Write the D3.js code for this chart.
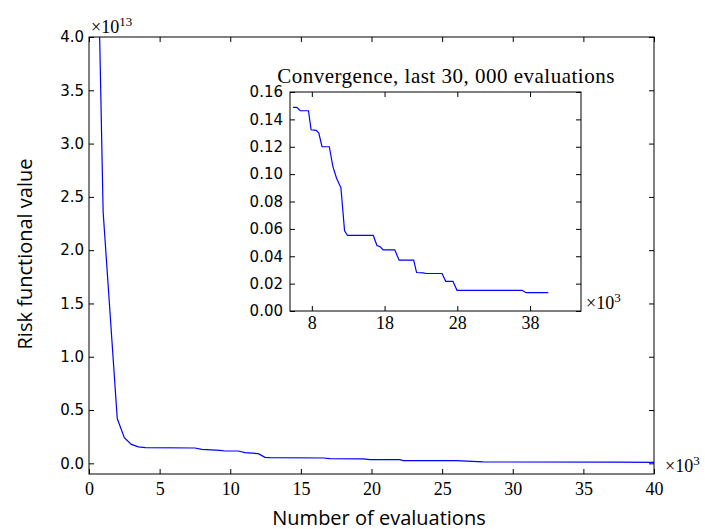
<!DOCTYPE html>
<html>
<head>
<meta charset="utf-8">
<script src="https://cdn.jsdelivr.net/npm/d3@7"></script>
<style>
  body { margin: 0; background: #fff; }
  svg { display: block; }
</style>
</head>
<body>
<div id="chart"></div>
<script>
// values (evaluations in thousands, risk in 1e13)
const mainEvals = [0.5, 1.0, 2.0, 2.5, 3.0, 3.5, 4.0, 7.5, 7.98, 9.27, 9.63, 10.57, 11.04, 11.99, 12.46, 12.8, 16.6, 17.06, 19.4, 19.9, 22.0, 22.25, 26.0, 27.9, 37.4, 40.0];
const mainRisk  = [5.7, 2.36, 0.42, 0.24, 0.178, 0.155, 0.147, 0.144, 0.131, 0.122, 0.116, 0.116, 0.100, 0.091, 0.056, 0.053, 0.050, 0.044, 0.041, 0.034, 0.034, 0.025, 0.025, 0.013, 0.011, 0.009];

const insetEvals = [5.4, 5.94, 6.4, 7.54, 7.9, 8.6, 8.96, 9.4, 10.4, 10.9, 11.4, 12.0, 12.5, 12.9, 16.45, 16.95, 17.4, 17.8, 19.4, 20.0, 22.0, 22.4, 23.3, 23.75, 25.9, 26.4, 27.4, 27.95, 36.9, 37.45, 40.5];
const insetRisk  = [0.1488, 0.1488, 0.1463, 0.1463, 0.1324, 0.132, 0.130, 0.120, 0.120, 0.1055, 0.097, 0.090, 0.0586, 0.0552, 0.0552, 0.0479, 0.0469, 0.0447, 0.0447, 0.0371, 0.0371, 0.0281, 0.0278, 0.0274, 0.0274, 0.0217, 0.0217, 0.0151, 0.0151, 0.0134, 0.0134];

const mainXTicks = [0, 5, 10, 15, 20, 25, 30, 35, 40];
const mainYTicks = [0.0, 0.5, 1.0, 1.5, 2.0, 2.5, 3.0, 3.5, 4.0];
const insetXTicks = [8, 18, 28, 38];
const insetYTicks = [0.00, 0.02, 0.04, 0.06, 0.08, 0.10, 0.12, 0.14, 0.16];

const W = 705, H = 529;
const serif = '"Liberation Serif", "DejaVu Serif", serif';
const sans = '"DejaVu Sans", sans-serif';
const labelFont = '"Open Sans", "Noto Sans", sans-serif';

const svg = d3.select('#chart').append('svg')
  .attr('width', W).attr('height', H);

function drawPanel(cfg) {
  const x = d3.scaleLinear().domain(cfg.xDomain).range([cfg.left, cfg.right]);
  const y = d3.scaleLinear().domain(cfg.yDomain).range([cfg.bottom, cfg.top]);
  const g = svg.append('g');

  g.append('rect')
    .attr('x', cfg.left).attr('y', cfg.top)
    .attr('width', cfg.right - cfg.left).attr('height', cfg.bottom - cfg.top)
    .attr('fill', '#fff');

  const clipId = cfg.id + '-clip';
  g.append('clipPath').attr('id', clipId)
    .append('rect')
    .attr('x', cfg.left).attr('y', cfg.top)
    .attr('width', cfg.right - cfg.left).attr('height', cfg.bottom - cfg.top);

  const pts = cfg.xs.map((v, i) => [v, cfg.ys[i]]);
  g.append('path')
    .datum(pts)
    .attr('clip-path', `url(#${clipId})`)
    .attr('fill', 'none')
    .attr('stroke', '#0000ff')
    .attr('stroke-width', 1.2)
    .attr('d', d3.line().x(d => x(d[0])).y(d => y(d[1])));

  // ticks point inward on all four sides
  const axB = g.append('g').attr('transform', `translate(0,${cfg.bottom})`)
    .call(d3.axisBottom(x).tickValues(cfg.xTicks).tickSizeInner(-5).tickSizeOuter(0)
      .tickPadding(cfg.xPad).tickFormat(d3.format('d')));
  axB.selectAll('text').attr('font-family', serif).attr('font-size', cfg.xFont).attr('fill', '#000');

  const axT = g.append('g').attr('transform', `translate(0,${cfg.top})`)
    .call(d3.axisTop(x).tickValues(cfg.xTicks).tickSizeInner(-5).tickSizeOuter(0).tickFormat(''));

  const axL = g.append('g').attr('transform', `translate(${cfg.left},0)`)
    .call(d3.axisLeft(y).tickValues(cfg.yTicks).tickSizeInner(-5).tickSizeOuter(0)
      .tickPadding(cfg.yPad).tickFormat(d3.format(cfg.yFmt)));
  axL.selectAll('text').attr('font-family', sans).attr('font-size', 15).attr('fill', '#000');

  const axR = g.append('g').attr('transform', `translate(${cfg.right},0)`)
    .call(d3.axisRight(y).tickValues(cfg.yTicks).tickSizeInner(-5).tickSizeOuter(0).tickFormat(''));

  [axB, axT, axL, axR].forEach(a => {
    a.select('.domain').remove();
    a.selectAll('line').attr('stroke', '#000');
  });

  g.append('rect')
    .attr('x', cfg.left).attr('y', cfg.top)
    .attr('width', cfg.right - cfg.left).attr('height', cfg.bottom - cfg.top)
    .attr('fill', 'none').attr('stroke', '#000').attr('stroke-width', 1);

  return g;
}

drawPanel({
  id: 'main', left: 89, right: 654, top: 37, bottom: 474,
  xDomain: [0, 40], yDomain: [-0.1, 4.0],
  xs: mainEvals, ys: mainRisk,
  xTicks: mainXTicks, yTicks: mainYTicks,
  xPad: 8, yPad: 5, xFont: 18, yFmt: '.1f'
});

drawPanel({
  id: 'inset', left: 290, right: 581, top: 92, bottom: 311,
  xDomain: [5, 45], yDomain: [0, 0.16],
  xs: insetEvals, ys: insetRisk,
  xTicks: insetXTicks, yTicks: insetYTicks,
  xPad: 5, yPad: 7, xFont: 18, yFmt: '.2f'
});

// multipliers
function multiplier(px, py, exp) {
  const t = svg.append('text')
    .attr('x', px).attr('y', py)
    .attr('font-family', serif).attr('font-size', 18).attr('fill', '#000');
  t.append('tspan').text('\u00d710');
  t.append('tspan').attr('dy', -7).attr('font-size', 13).text(exp);
}
multiplier(91, 33, '13');
multiplier(665, 472, '3');
multiplier(586, 309, '3');

svg.append('text')
  .attr('x', 446).attr('y', 83)
  .attr('text-anchor', 'middle')
  .attr('font-family', serif).attr('font-size', 21).attr('letter-spacing', 0.5)
  .attr('fill', '#000')
  .text('Convergence, last 30, 000 evaluations');

svg.append('text')
  .attr('x', 379).attr('y', 525)
  .attr('text-anchor', 'middle')
  .attr('font-family', labelFont).attr('font-size', 20).attr('fill', '#000')
  .text('Number of evaluations');

svg.append('text')
  .attr('transform', 'translate(32,254) rotate(-90)')
  .attr('text-anchor', 'middle')
  .attr('font-family', labelFont).attr('font-size', 20).attr('fill', '#000')
  .text('Risk functional value');
</script>
</body>
</html>
